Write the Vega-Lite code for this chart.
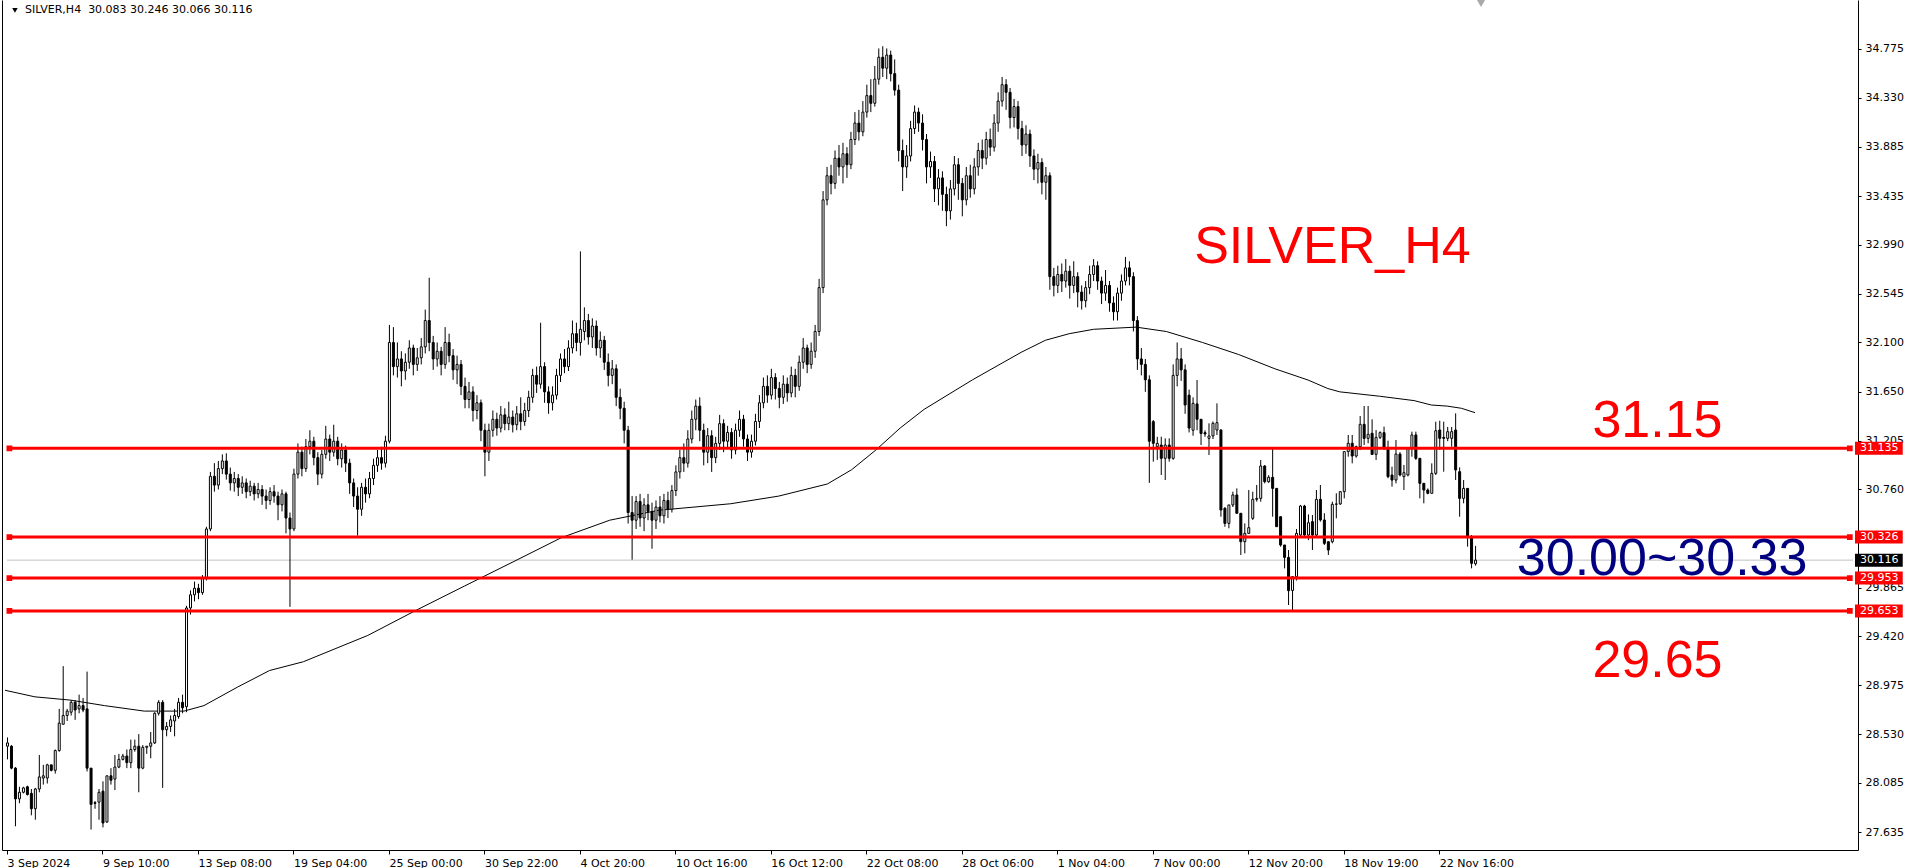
{
"$schema":"https://vega.github.io/schema/vega-lite/v6.json",
"width":1856,"height":850,
"autosize":{"type":"none"},
"padding":{"left":2,"top":0,"right":49,"bottom":18},
"background":"white",
"config":{"view":{"stroke":null},"font":"DejaVu Sans"},
"resolve":{"axis":{"x":"independent","y":"independent"}},
"datasets":{
"candles":[
{"i":0,"o":28.42,"h":28.50,"l":28.30,"c":28.45},
{"i":1,"o":28.42,"h":28.43,"l":28.21,"c":28.22},
{"i":2,"o":28.22,"h":28.23,"l":27.69,"c":27.94},
{"i":3,"o":27.94,"h":28.05,"l":27.90,"c":28.00},
{"i":4,"o":28.00,"h":28.05,"l":27.99,"c":28.04},
{"i":5,"o":28.05,"h":28.06,"l":27.97,"c":27.98},
{"i":6,"o":27.99,"h":28.03,"l":27.79,"c":27.85},
{"i":7,"o":27.85,"h":28.04,"l":27.75,"c":28.03},
{"i":8,"o":28.03,"h":28.34,"l":28.00,"c":28.14},
{"i":9,"o":28.13,"h":28.25,"l":28.07,"c":28.15},
{"i":10,"o":28.13,"h":28.26,"l":28.08,"c":28.25},
{"i":11,"o":28.25,"h":28.25,"l":28.19,"c":28.20},
{"i":12,"o":28.20,"h":28.39,"l":28.17,"c":28.38},
{"i":13,"o":28.38,"h":28.76,"l":28.37,"c":28.63},
{"i":14,"o":28.62,"h":29.15,"l":28.62,"c":28.70},
{"i":15,"o":28.70,"h":28.76,"l":28.65,"c":28.74},
{"i":16,"o":28.73,"h":28.84,"l":28.70,"c":28.82},
{"i":17,"o":28.82,"h":28.84,"l":28.66,"c":28.75},
{"i":18,"o":28.76,"h":28.89,"l":28.72,"c":28.79},
{"i":19,"o":28.79,"h":28.86,"l":28.73,"c":28.75},
{"i":20,"o":28.76,"h":29.10,"l":28.19,"c":28.22},
{"i":21,"o":28.22,"h":28.22,"l":27.66,"c":27.89},
{"i":22,"o":27.905,"h":27.92,"l":27.85,"c":27.899},
{"i":23,"o":27.91,"h":28.03,"l":27.75,"c":28.00},
{"i":24,"o":28.01,"h":28.10,"l":27.68,"c":27.72},
{"i":25,"o":27.73,"h":28.15,"l":27.72,"c":28.15},
{"i":26,"o":28.15,"h":28.22,"l":28.07,"c":28.11},
{"i":27,"o":28.12,"h":28.34,"l":28.02,"c":28.23},
{"i":28,"o":28.23,"h":28.35,"l":28.22,"c":28.30},
{"i":29,"o":28.30,"h":28.35,"l":28.29,"c":28.33},
{"i":30,"o":28.33,"h":28.39,"l":28.22,"c":28.27},
{"i":31,"o":28.27,"h":28.48,"l":28.22,"c":28.39},
{"i":32,"o":28.39,"h":28.48,"l":28.37,"c":28.42},
{"i":33,"o":28.42,"h":28.53,"l":28.00,"c":28.22},
{"i":34,"o":28.22,"h":28.43,"l":28.21,"c":28.41},
{"i":35,"o":28.41,"h":28.42,"l":28.35,"c":28.42},
{"i":36,"o":28.42,"h":28.55,"l":28.31,"c":28.45},
{"i":37,"o":28.45,"h":28.73,"l":28.44,"c":28.72},
{"i":38,"o":28.72,"h":28.84,"l":28.70,"c":28.82},
{"i":39,"o":28.82,"h":28.84,"l":28.04,"c":28.57},
{"i":40,"o":28.57,"h":28.64,"l":28.51,"c":28.60},
{"i":41,"o":28.60,"h":28.70,"l":28.55,"c":28.66},
{"i":42,"o":28.65,"h":28.76,"l":28.51,"c":28.70},
{"i":43,"o":28.69,"h":28.86,"l":28.67,"c":28.82},
{"i":44,"o":28.82,"h":28.89,"l":28.72,"c":28.77},
{"i":45,"o":28.78,"h":29.70,"l":28.73,"c":29.68},
{"i":46,"o":29.68,"h":29.84,"l":29.62,"c":29.80},
{"i":47,"o":29.80,"h":29.92,"l":29.74,"c":29.86},
{"i":48,"o":29.86,"h":29.90,"l":29.76,"c":29.82},
{"i":49,"o":29.82,"h":29.98,"l":29.80,"c":29.95},
{"i":50,"o":29.95,"h":30.42,"l":29.93,"c":30.40},
{"i":51,"o":30.40,"h":30.92,"l":30.38,"c":30.88},
{"i":52,"o":30.88,"h":31.00,"l":30.74,"c":30.80},
{"i":53,"o":30.80,"h":31.02,"l":30.76,"c":30.95},
{"i":54,"o":30.95,"h":31.08,"l":30.90,"c":31.02},
{"i":55,"o":31.02,"h":31.09,"l":30.85,"c":30.90},
{"i":56,"o":30.90,"h":30.96,"l":30.75,"c":30.82},
{"i":57,"o":30.82,"h":30.92,"l":30.74,"c":30.86},
{"i":58,"o":30.86,"h":30.90,"l":30.70,"c":30.78},
{"i":59,"o":30.78,"h":30.88,"l":30.72,"c":30.82},
{"i":60,"o":30.82,"h":30.86,"l":30.68,"c":30.74},
{"i":61,"o":30.74,"h":30.84,"l":30.70,"c":30.79},
{"i":62,"o":30.79,"h":30.82,"l":30.66,"c":30.72},
{"i":63,"o":30.72,"h":30.82,"l":30.68,"c":30.76},
{"i":64,"o":30.76,"h":30.80,"l":30.62,"c":30.70},
{"i":65,"o":30.70,"h":30.76,"l":30.58,"c":30.66},
{"i":66,"o":30.66,"h":30.78,"l":30.62,"c":30.74},
{"i":67,"o":30.74,"h":30.80,"l":30.64,"c":30.70},
{"i":68,"o":30.70,"h":30.74,"l":30.48,"c":30.62},
{"i":69,"o":30.62,"h":30.76,"l":30.56,"c":30.72},
{"i":70,"o":30.72,"h":30.74,"l":30.36,"c":30.50},
{"i":71,"o":30.50,"h":30.55,"l":29.69,"c":30.40},
{"i":72,"o":30.40,"h":30.95,"l":30.38,"c":30.90},
{"i":73,"o":30.90,"h":31.18,"l":30.86,"c":31.10},
{"i":74,"o":31.10,"h":31.15,"l":30.88,"c":30.95},
{"i":75,"o":30.95,"h":31.22,"l":30.92,"c":31.15},
{"i":76,"o":31.15,"h":31.30,"l":31.08,"c":31.20},
{"i":77,"o":31.20,"h":31.24,"l":30.98,"c":31.05},
{"i":78,"o":31.05,"h":31.10,"l":30.80,"c":30.90},
{"i":79,"o":30.90,"h":31.12,"l":30.86,"c":31.08},
{"i":80,"o":31.08,"h":31.34,"l":31.04,"c":31.22},
{"i":81,"o":31.22,"h":31.26,"l":31.02,"c":31.10},
{"i":82,"o":31.10,"h":31.35,"l":31.06,"c":31.20},
{"i":83,"o":31.20,"h":31.24,"l":30.98,"c":31.04},
{"i":84,"o":31.04,"h":31.18,"l":30.96,"c":31.12},
{"i":85,"o":31.12,"h":31.16,"l":30.92,"c":31.00},
{"i":86,"o":31.00,"h":31.04,"l":30.72,"c":30.82},
{"i":87,"o":30.82,"h":30.86,"l":30.60,"c":30.70},
{"i":88,"o":30.70,"h":30.78,"l":30.34,"c":30.58},
{"i":89,"o":30.58,"h":30.82,"l":30.52,"c":30.78},
{"i":90,"o":30.78,"h":30.86,"l":30.64,"c":30.72},
{"i":91,"o":30.72,"h":30.92,"l":30.68,"c":30.86},
{"i":92,"o":30.86,"h":31.04,"l":30.80,"c":30.98},
{"i":93,"o":30.98,"h":31.12,"l":30.92,"c":31.05},
{"i":94,"o":31.05,"h":31.15,"l":30.94,"c":31.00},
{"i":95,"o":31.00,"h":31.25,"l":30.96,"c":31.20},
{"i":96,"o":31.20,"h":32.26,"l":31.18,"c":32.10},
{"i":97,"o":32.10,"h":32.24,"l":31.80,"c":31.88},
{"i":98,"o":31.88,"h":32.10,"l":31.78,"c":31.95},
{"i":99,"o":31.95,"h":32.02,"l":31.70,"c":31.84},
{"i":100,"o":31.84,"h":32.00,"l":31.76,"c":31.92},
{"i":101,"o":31.92,"h":32.12,"l":31.86,"c":32.05},
{"i":102,"o":32.05,"h":32.08,"l":31.80,"c":31.90},
{"i":103,"o":31.90,"h":32.05,"l":31.84,"c":31.96},
{"i":104,"o":31.96,"h":32.14,"l":31.90,"c":32.06},
{"i":105,"o":32.06,"h":32.40,"l":32.00,"c":32.30},
{"i":106,"o":32.30,"h":32.69,"l":32.02,"c":32.10},
{"i":107,"o":32.10,"h":32.16,"l":31.85,"c":31.95},
{"i":108,"o":31.95,"h":32.10,"l":31.88,"c":32.02},
{"i":109,"o":32.02,"h":32.06,"l":31.80,"c":31.90},
{"i":110,"o":31.90,"h":32.24,"l":31.86,"c":32.10},
{"i":111,"o":32.10,"h":32.18,"l":31.92,"c":31.98},
{"i":112,"o":31.98,"h":32.04,"l":31.76,"c":31.85},
{"i":113,"o":31.85,"h":31.98,"l":31.72,"c":31.90},
{"i":114,"o":31.90,"h":31.94,"l":31.62,"c":31.70},
{"i":115,"o":31.70,"h":31.78,"l":31.50,"c":31.58},
{"i":116,"o":31.58,"h":31.74,"l":31.50,"c":31.65},
{"i":117,"o":31.65,"h":31.70,"l":31.38,"c":31.48},
{"i":118,"o":31.48,"h":31.62,"l":31.40,"c":31.55},
{"i":119,"o":31.55,"h":31.58,"l":31.20,"c":31.30},
{"i":120,"o":31.30,"h":31.36,"l":30.88,"c":31.10},
{"i":121,"o":31.10,"h":31.36,"l":31.02,"c":31.30},
{"i":122,"o":31.30,"h":31.48,"l":31.24,"c":31.40},
{"i":123,"o":31.40,"h":31.46,"l":31.25,"c":31.32},
{"i":124,"o":31.32,"h":31.52,"l":31.28,"c":31.44},
{"i":125,"o":31.44,"h":31.50,"l":31.30,"c":31.36},
{"i":126,"o":31.36,"h":31.56,"l":31.30,"c":31.42},
{"i":127,"o":31.42,"h":31.48,"l":31.28,"c":31.35},
{"i":128,"o":31.35,"h":31.52,"l":31.30,"c":31.45},
{"i":129,"o":31.45,"h":31.60,"l":31.30,"c":31.38},
{"i":130,"o":31.38,"h":31.55,"l":31.34,"c":31.48},
{"i":131,"o":31.48,"h":31.66,"l":31.42,"c":31.60},
{"i":132,"o":31.60,"h":31.86,"l":31.55,"c":31.80},
{"i":133,"o":31.80,"h":31.88,"l":31.64,"c":31.72},
{"i":134,"o":31.72,"h":32.28,"l":31.68,"c":31.88},
{"i":135,"o":31.88,"h":31.92,"l":31.55,"c":31.65},
{"i":136,"o":31.65,"h":31.70,"l":31.45,"c":31.55},
{"i":137,"o":31.55,"h":31.70,"l":31.48,"c":31.62},
{"i":138,"o":31.62,"h":31.86,"l":31.58,"c":31.80},
{"i":139,"o":31.80,"h":32.00,"l":31.74,"c":31.95},
{"i":140,"o":31.95,"h":32.04,"l":31.82,"c":31.88},
{"i":141,"o":31.88,"h":32.12,"l":31.84,"c":32.05},
{"i":142,"o":32.05,"h":32.30,"l":32.00,"c":32.18},
{"i":143,"o":32.18,"h":32.28,"l":32.02,"c":32.10},
{"i":144,"o":32.10,"h":32.93,"l":31.98,"c":32.22},
{"i":145,"o":32.20,"h":32.42,"l":32.12,"c":32.30},
{"i":146,"o":32.30,"h":32.36,"l":32.08,"c":32.15},
{"i":147,"o":32.15,"h":32.32,"l":32.05,"c":32.25},
{"i":148,"o":32.25,"h":32.30,"l":31.98,"c":32.05},
{"i":149,"o":32.05,"h":32.20,"l":31.96,"c":32.12},
{"i":150,"o":32.12,"h":32.16,"l":31.85,"c":31.92},
{"i":151,"o":31.92,"h":32.00,"l":31.70,"c":31.80},
{"i":152,"o":31.80,"h":31.94,"l":31.72,"c":31.86},
{"i":153,"o":31.86,"h":31.90,"l":31.52,"c":31.60},
{"i":154,"o":31.60,"h":31.68,"l":31.40,"c":31.50},
{"i":155,"o":31.50,"h":31.56,"l":31.18,"c":31.30},
{"i":156,"o":31.30,"h":31.34,"l":30.45,"c":30.55},
{"i":157,"o":30.55,"h":30.70,"l":30.12,"c":30.48},
{"i":158,"o":30.48,"h":30.70,"l":30.40,"c":30.65},
{"i":159,"o":30.65,"h":30.72,"l":30.42,"c":30.50},
{"i":160,"o":30.50,"h":30.68,"l":30.38,"c":30.62},
{"i":161,"o":30.62,"h":30.72,"l":30.48,"c":30.56},
{"i":162,"o":30.56,"h":30.64,"l":30.22,"c":30.48},
{"i":163,"o":30.48,"h":30.66,"l":30.40,"c":30.60},
{"i":164,"o":30.60,"h":30.70,"l":30.46,"c":30.52},
{"i":165,"o":30.52,"h":30.72,"l":30.45,"c":30.66},
{"i":166,"o":30.66,"h":30.74,"l":30.50,"c":30.58},
{"i":167,"o":30.58,"h":30.80,"l":30.55,"c":30.75},
{"i":168,"o":30.75,"h":30.98,"l":30.70,"c":30.92},
{"i":169,"o":30.92,"h":31.12,"l":30.86,"c":31.05},
{"i":170,"o":31.05,"h":31.18,"l":30.92,"c":31.00},
{"i":171,"o":31.00,"h":31.30,"l":30.96,"c":31.22},
{"i":172,"o":31.22,"h":31.48,"l":31.18,"c":31.40},
{"i":173,"o":31.40,"h":31.58,"l":31.30,"c":31.52},
{"i":174,"o":31.52,"h":31.60,"l":31.20,"c":31.30},
{"i":175,"o":31.30,"h":31.36,"l":30.98,"c":31.10},
{"i":176,"o":31.10,"h":31.32,"l":31.00,"c":31.25},
{"i":177,"o":31.25,"h":31.30,"l":30.92,"c":31.05},
{"i":178,"o":31.05,"h":31.24,"l":31.00,"c":31.18},
{"i":179,"o":31.18,"h":31.44,"l":31.12,"c":31.36},
{"i":180,"o":31.36,"h":31.40,"l":31.10,"c":31.20},
{"i":181,"o":31.20,"h":31.34,"l":31.14,"c":31.28},
{"i":182,"o":31.28,"h":31.32,"l":31.04,"c":31.12},
{"i":183,"o":31.12,"h":31.36,"l":31.08,"c":31.30},
{"i":184,"o":31.30,"h":31.48,"l":31.24,"c":31.40},
{"i":185,"o":31.40,"h":31.44,"l":31.15,"c":31.22},
{"i":186,"o":31.22,"h":31.26,"l":31.02,"c":31.10},
{"i":187,"o":31.10,"h":31.26,"l":31.05,"c":31.20},
{"i":188,"o":31.20,"h":31.45,"l":31.16,"c":31.38},
{"i":189,"o":31.38,"h":31.62,"l":31.32,"c":31.55},
{"i":190,"o":31.55,"h":31.78,"l":31.50,"c":31.70},
{"i":191,"o":31.70,"h":31.80,"l":31.55,"c":31.62},
{"i":192,"o":31.62,"h":31.86,"l":31.58,"c":31.78},
{"i":193,"o":31.78,"h":31.82,"l":31.58,"c":31.68},
{"i":194,"o":31.68,"h":31.74,"l":31.50,"c":31.60},
{"i":195,"o":31.60,"h":31.80,"l":31.54,"c":31.72},
{"i":196,"o":31.72,"h":31.78,"l":31.56,"c":31.64},
{"i":197,"o":31.64,"h":31.88,"l":31.60,"c":31.80},
{"i":198,"o":31.80,"h":31.86,"l":31.60,"c":31.70},
{"i":199,"o":31.70,"h":31.98,"l":31.66,"c":31.92},
{"i":200,"o":31.92,"h":32.14,"l":31.86,"c":32.05},
{"i":201,"o":32.05,"h":32.08,"l":31.82,"c":31.90},
{"i":202,"o":31.90,"h":32.10,"l":31.86,"c":32.02},
{"i":203,"o":32.02,"h":32.26,"l":31.96,"c":32.20},
{"i":204,"o":32.20,"h":32.68,"l":32.16,"c":32.60},
{"i":205,"o":32.60,"h":33.48,"l":32.55,"c":33.40},
{"i":206,"o":33.40,"h":33.70,"l":33.35,"c":33.62},
{"i":207,"o":33.62,"h":33.72,"l":33.45,"c":33.55},
{"i":208,"o":33.55,"h":33.85,"l":33.50,"c":33.78},
{"i":209,"o":33.78,"h":33.90,"l":33.62,"c":33.70},
{"i":210,"o":33.70,"h":33.92,"l":33.55,"c":33.82},
{"i":211,"o":33.82,"h":33.88,"l":33.60,"c":33.72},
{"i":212,"o":33.72,"h":34.02,"l":33.68,"c":33.95},
{"i":213,"o":33.95,"h":34.20,"l":33.90,"c":34.10},
{"i":214,"o":34.10,"h":34.22,"l":33.94,"c":34.02},
{"i":215,"o":34.02,"h":34.30,"l":33.98,"c":34.20},
{"i":216,"o":34.20,"h":34.45,"l":34.15,"c":34.35},
{"i":217,"o":34.35,"h":34.50,"l":34.20,"c":34.28},
{"i":218,"o":34.28,"h":34.62,"l":34.25,"c":34.50},
{"i":219,"o":34.50,"h":34.78,"l":34.45,"c":34.70},
{"i":220,"o":34.70,"h":34.80,"l":34.52,"c":34.60},
{"i":221,"o":34.60,"h":34.78,"l":34.50,"c":34.72},
{"i":222,"o":34.72,"h":34.76,"l":34.48,"c":34.55},
{"i":223,"o":34.55,"h":34.68,"l":34.35,"c":34.40},
{"i":224,"o":34.40,"h":34.45,"l":33.75,"c":33.85},
{"i":225,"o":33.85,"h":33.95,"l":33.48,"c":33.70},
{"i":226,"o":33.70,"h":33.90,"l":33.60,"c":33.80},
{"i":227,"o":33.80,"h":34.12,"l":33.75,"c":34.05},
{"i":228,"o":34.05,"h":34.26,"l":34.00,"c":34.20},
{"i":229,"o":34.20,"h":34.24,"l":34.02,"c":34.10},
{"i":230,"o":34.10,"h":34.18,"l":33.85,"c":33.95},
{"i":231,"o":33.95,"h":34.00,"l":33.55,"c":33.70},
{"i":232,"o":33.70,"h":33.84,"l":33.60,"c":33.75},
{"i":233,"o":33.75,"h":33.80,"l":33.38,"c":33.50},
{"i":234,"o":33.50,"h":33.68,"l":33.35,"c":33.60},
{"i":235,"o":33.60,"h":33.66,"l":33.30,"c":33.45},
{"i":236,"o":33.45,"h":33.52,"l":33.16,"c":33.30},
{"i":237,"o":33.30,"h":33.58,"l":33.22,"c":33.50},
{"i":238,"o":33.50,"h":33.80,"l":33.44,"c":33.72},
{"i":239,"o":33.72,"h":33.78,"l":33.40,"c":33.55},
{"i":240,"o":33.55,"h":33.60,"l":33.25,"c":33.40},
{"i":241,"o":33.40,"h":33.70,"l":33.35,"c":33.62},
{"i":242,"o":33.62,"h":33.72,"l":33.42,"c":33.50},
{"i":243,"o":33.50,"h":33.78,"l":33.45,"c":33.70},
{"i":244,"o":33.70,"h":33.92,"l":33.62,"c":33.85},
{"i":245,"o":33.85,"h":33.95,"l":33.68,"c":33.78},
{"i":246,"o":33.78,"h":34.02,"l":33.72,"c":33.95},
{"i":247,"o":33.95,"h":34.05,"l":33.80,"c":33.88},
{"i":248,"o":33.88,"h":34.18,"l":33.84,"c":34.10},
{"i":249,"o":34.10,"h":34.38,"l":34.02,"c":34.30},
{"i":250,"o":34.30,"h":34.52,"l":34.25,"c":34.45},
{"i":251,"o":34.45,"h":34.50,"l":34.22,"c":34.38},
{"i":252,"o":34.38,"h":34.42,"l":34.05,"c":34.15},
{"i":253,"o":34.15,"h":34.32,"l":34.06,"c":34.25},
{"i":254,"o":34.25,"h":34.30,"l":33.95,"c":34.05},
{"i":255,"o":34.05,"h":34.12,"l":33.80,"c":33.90},
{"i":256,"o":33.90,"h":34.08,"l":33.82,"c":34.00},
{"i":257,"o":34.00,"h":34.04,"l":33.70,"c":33.80},
{"i":258,"o":33.80,"h":33.86,"l":33.58,"c":33.68},
{"i":259,"o":33.68,"h":33.82,"l":33.55,"c":33.74},
{"i":260,"o":33.74,"h":33.78,"l":33.45,"c":33.56},
{"i":261,"o":33.56,"h":33.70,"l":33.40,"c":33.62},
{"i":262,"o":33.62,"h":33.65,"l":32.58,"c":32.70},
{"i":263,"o":32.70,"h":32.78,"l":32.52,"c":32.62},
{"i":264,"o":32.62,"h":32.80,"l":32.55,"c":32.72},
{"i":265,"o":32.72,"h":32.82,"l":32.56,"c":32.66},
{"i":266,"o":32.66,"h":32.86,"l":32.60,"c":32.75},
{"i":267,"o":32.75,"h":32.80,"l":32.50,"c":32.62},
{"i":268,"o":32.62,"h":32.84,"l":32.55,"c":32.70},
{"i":269,"o":32.70,"h":32.74,"l":32.42,"c":32.56},
{"i":270,"o":32.56,"h":32.62,"l":32.40,"c":32.48},
{"i":271,"o":32.48,"h":32.66,"l":32.42,"c":32.60},
{"i":272,"o":32.60,"h":32.80,"l":32.54,"c":32.72},
{"i":273,"o":32.72,"h":32.86,"l":32.66,"c":32.80},
{"i":274,"o":32.80,"h":32.84,"l":32.58,"c":32.66},
{"i":275,"o":32.66,"h":32.70,"l":32.45,"c":32.55},
{"i":276,"o":32.55,"h":32.76,"l":32.48,"c":32.62},
{"i":277,"o":32.62,"h":32.66,"l":32.38,"c":32.46},
{"i":278,"o":32.46,"h":32.52,"l":32.30,"c":32.38},
{"i":279,"o":32.38,"h":32.60,"l":32.30,"c":32.55},
{"i":280,"o":32.55,"h":32.72,"l":32.48,"c":32.66},
{"i":281,"o":32.66,"h":32.88,"l":32.62,"c":32.78},
{"i":282,"o":32.78,"h":32.84,"l":32.62,"c":32.70},
{"i":283,"o":32.70,"h":32.74,"l":32.20,"c":32.30},
{"i":284,"o":32.30,"h":32.34,"l":31.85,"c":31.95},
{"i":285,"o":31.95,"h":32.05,"l":31.80,"c":31.90},
{"i":286,"o":31.90,"h":31.95,"l":31.65,"c":31.76},
{"i":287,"o":31.76,"h":31.80,"l":30.82,"c":31.20},
{"i":288,"o":31.378,"h":31.393,"l":31.014,"c":31.181},
{"i":289,"o":31.15,"h":31.24,"l":31.03,"c":31.18},
{"i":290,"o":31.165,"h":31.241,"l":30.892,"c":31.044},
{"i":291,"o":31.044,"h":31.226,"l":30.846,"c":31.165},
{"i":292,"o":31.165,"h":31.226,"l":31.014,"c":31.044},
{"i":293,"o":31.044,"h":31.90,"l":31.03,"c":31.80},
{"i":294,"o":31.80,"h":32.10,"l":31.70,"c":31.95},
{"i":295,"o":31.95,"h":32.05,"l":31.75,"c":31.85},
{"i":296,"o":31.85,"h":31.90,"l":31.45,"c":31.53},
{"i":297,"o":31.62,"h":31.67,"l":31.28,"c":31.32},
{"i":298,"o":31.30,"h":31.60,"l":31.25,"c":31.545},
{"i":299,"o":31.54,"h":31.758,"l":31.30,"c":31.40},
{"i":300,"o":31.40,"h":31.40,"l":31.165,"c":31.27},
{"i":301,"o":31.278,"h":31.30,"l":31.24,"c":31.266},
{"i":302,"o":31.226,"h":31.363,"l":31.074,"c":31.248},
{"i":303,"o":31.248,"h":31.38,"l":31.22,"c":31.363},
{"i":304,"o":31.302,"h":31.545,"l":31.257,"c":31.369},
{"i":305,"o":31.302,"h":31.31,"l":30.512,"c":30.573},
{"i":306,"o":30.588,"h":30.60,"l":30.42,"c":30.451},
{"i":307,"o":30.451,"h":30.619,"l":30.406,"c":30.619},
{"i":308,"o":30.619,"h":30.74,"l":30.60,"c":30.710},
{"i":309,"o":30.710,"h":30.770,"l":30.543,"c":30.543},
{"i":310,"o":30.543,"h":30.543,"l":30.163,"c":30.284},
{"i":311,"o":30.284,"h":30.451,"l":30.178,"c":30.360},
{"i":312,"o":30.36,"h":30.755,"l":30.36,"c":30.412},
{"i":313,"o":30.497,"h":30.740,"l":30.482,"c":30.670},
{"i":314,"o":30.670,"h":30.801,"l":30.649,"c":30.679},
{"i":315,"o":30.679,"h":31.029,"l":30.649,"c":30.974},
{"i":316,"o":30.974,"h":30.983,"l":30.816,"c":30.831},
{"i":317,"o":30.831,"h":30.89,"l":30.82,"c":30.871},
{"i":318,"o":30.871,"h":31.135,"l":30.512,"c":30.770},
{"i":319,"o":30.770,"h":30.770,"l":30.421,"c":30.421},
{"i":320,"o":30.512,"h":30.512,"l":30.239,"c":30.254},
{"i":321,"o":30.254,"h":30.254,"l":30.041,"c":30.141},
{"i":322,"o":30.141,"h":30.208,"l":29.707,"c":29.838},
{"i":323,"o":29.84,"h":29.97,"l":29.661,"c":29.965},
{"i":324,"o":29.965,"h":30.40,"l":29.93,"c":30.360},
{"i":325,"o":30.345,"h":30.619,"l":30.330,"c":30.609},
{"i":326,"o":30.609,"h":30.62,"l":30.33,"c":30.345},
{"i":327,"o":30.345,"h":30.533,"l":30.299,"c":30.457},
{"i":328,"o":30.467,"h":30.527,"l":30.208,"c":30.345},
{"i":329,"o":30.345,"h":30.755,"l":30.330,"c":30.670},
{"i":330,"o":30.670,"h":30.801,"l":30.467,"c":30.482},
{"i":331,"o":30.482,"h":30.543,"l":30.254,"c":30.269},
{"i":332,"o":30.284,"h":30.284,"l":30.163,"c":30.208},
{"i":333,"o":30.284,"h":30.649,"l":30.269,"c":30.625},
{"i":334,"o":30.625,"h":30.725,"l":30.497,"c":30.628},
{"i":335,"o":30.628,"h":30.740,"l":30.62,"c":30.740},
{"i":336,"o":30.740,"h":31.105,"l":30.679,"c":31.105},
{"i":337,"o":31.105,"h":31.257,"l":31.059,"c":31.181},
{"i":338,"o":31.181,"h":31.257,"l":30.998,"c":31.065},
{"i":339,"o":31.065,"h":31.16,"l":31.05,"c":31.150},
{"i":340,"o":31.150,"h":31.430,"l":31.120,"c":31.354},
{"i":341,"o":31.354,"h":31.521,"l":31.165,"c":31.226},
{"i":342,"o":31.226,"h":31.521,"l":31.181,"c":31.263},
{"i":343,"o":31.272,"h":31.399,"l":31.074,"c":31.080},
{"i":344,"o":31.080,"h":31.302,"l":31.029,"c":31.235},
{"i":345,"o":31.235,"h":31.29,"l":31.22,"c":31.278},
{"i":346,"o":31.278,"h":31.333,"l":31.120,"c":31.135},
{"i":347,"o":31.135,"h":31.205,"l":30.862,"c":30.877},
{"i":348,"o":30.892,"h":30.968,"l":30.786,"c":30.846},
{"i":349,"o":30.846,"h":31.211,"l":30.816,"c":31.083},
{"i":350,"o":31.083,"h":31.10,"l":30.88,"c":30.892},
{"i":351,"o":30.877,"h":30.983,"l":30.755,"c":30.913},
{"i":352,"o":30.892,"h":31.14,"l":30.88,"c":31.135},
{"i":353,"o":31.135,"h":31.287,"l":31.059,"c":31.257},
{"i":354,"o":31.257,"h":31.287,"l":31.029,"c":31.044},
{"i":355,"o":31.044,"h":31.044,"l":30.679,"c":30.816},
{"i":356,"o":30.816,"h":30.816,"l":30.634,"c":30.755},
{"i":357,"o":30.755,"h":30.770,"l":30.716,"c":30.725},
{"i":358,"o":30.725,"h":30.998,"l":30.725,"c":30.907},
{"i":359,"o":30.907,"h":31.378,"l":30.892,"c":31.296},
{"i":360,"o":31.302,"h":31.387,"l":31.120,"c":31.226},
{"i":361,"o":31.235,"h":31.378,"l":30.922,"c":31.226},
{"i":362,"o":31.226,"h":31.33,"l":31.20,"c":31.287},
{"i":363,"o":31.226,"h":31.33,"l":31.15,"c":31.287},
{"i":364,"o":31.302,"h":31.454,"l":30.846,"c":30.938},
{"i":365,"o":30.922,"h":30.962,"l":30.512,"c":30.679},
{"i":366,"o":30.679,"h":30.846,"l":30.634,"c":30.770},
{"i":367,"o":30.770,"h":30.770,"l":30.239,"c":30.330},
{"i":368,"o":30.330,"h":30.345,"l":30.041,"c":30.087},
{"i":369,"o":30.083,"h":30.246,"l":30.066,"c":30.116}
],
"ma":[
{"i":-0.5,"p":28.93},{"i":7,"p":28.87},{"i":16,"p":28.84},{"i":24.5,"p":28.79},{"i":34.5,"p":28.74},{"i":44.5,"p":28.74},{"i":49.5,"p":28.79},{"i":58,"p":28.96},{"i":66,"p":29.11},{"i":74.5,"p":29.19},{"i":90.7,"p":29.43},{"i":102.9,"p":29.66},{"i":115,"p":29.88},{"i":127.2,"p":30.10},{"i":139.3,"p":30.32},{"i":151.5,"p":30.48},{"i":163.7,"p":30.57},{"i":181.9,"p":30.63},{"i":194,"p":30.70},{"i":206.2,"p":30.81},{"i":212.3,"p":30.94},{"i":218.4,"p":31.12},{"i":224.5,"p":31.32},{"i":230.5,"p":31.49},{"i":242.7,"p":31.76},{"i":254.9,"p":32.01},{"i":261,"p":32.12},{"i":267,"p":32.18},{"i":273.1,"p":32.22},{"i":283.8,"p":32.24},{"i":291.4,"p":32.20},{"i":300.5,"p":32.10},{"i":309.6,"p":31.99},{"i":318.7,"p":31.86},{"i":327,"p":31.758},{"i":332,"p":31.68},{"i":335,"p":31.65},{"i":345,"p":31.61},{"i":353.7,"p":31.57},{"i":358,"p":31.53},{"i":362,"p":31.52},{"i":365.6,"p":31.50},{"i":369,"p":31.46}
],
"levels":[{"p":31.135},{"p":30.326},{"p":29.953},{"p":29.653}],
"tags":[{"p":31.135,"t":"31.135","k":"r"},{"p":30.326,"t":"30.326","k":"r"},{"p":29.953,"t":"29.953","k":"r"},{"p":29.653,"t":"29.653","k":"r"},{"p":30.116,"t":"30.116","k":"b"}]
},
"layer":[
{"data":{"values":[{"p":30.116}]},
 "mark":{"type":"rule","color":"#c0c0c0","strokeWidth":1},
 "encoding":{
  "x":{"datum":0,"type":"quantitative","scale":{"domain":[0,464],"nice":false,"zero":false},"axis":null},
  "x2":{"datum":464},
  "y":{"field":"p","type":"quantitative","scale":{"domain":[27.4739,35.2216],"nice":false,"zero":false},
       "axis":{"orient":"left","domain":true,"domainColor":"black","domainWidth":1,"ticks":false,"labels":false,"grid":false,"title":null}}}},
{"data":{"name":"ma"},
 "mark":{"type":"line","color":"black","strokeWidth":1},
 "encoding":{
  "x":{"field":"i","type":"quantitative","axis":null},
  "y":{"field":"p","type":"quantitative","axis":null}}},
{"data":{"name":"candles"},
 "mark":{"type":"rule","color":"black","strokeWidth":1,"xOffset":0.5},
 "encoding":{
  "x":{"field":"i","type":"quantitative",
       "axis":{"orient":"bottom","values":[0,24,48,72,96,120,144,168,192,216,240,264,288,312,336,360],
        "labelExpr":"['3 Sep 2024','9 Sep 10:00','13 Sep 08:00','19 Sep 04:00','25 Sep 00:00','30 Sep 22:00','4 Oct 20:00','10 Oct 16:00','16 Oct 12:00','22 Oct 08:00','28 Oct 06:00','1 Nov 04:00','7 Nov 00:00','12 Nov 20:00','18 Nov 19:00','22 Nov 16:00'][round(datum.value/24)]",
        "domain":true,"domainColor":"black","domainWidth":1,"ticks":true,"tickColor":"black","tickSize":4,"tickWidth":1,
        "labelAlign":"left","labelBaseline":"alphabetic","labelPadding":12,"labelFontSize":11,"labelFont":"DejaVu Sans","labelColor":"black",
        "labelOverlap":false,"labelBound":false,"labelFlush":false,"grid":false,"title":null}},
  "y":{"field":"l","type":"quantitative",
       "axis":{"orient":"right","values":[34.775,34.330,33.885,33.435,32.990,32.545,32.100,31.650,31.205,30.760,29.865,29.420,28.975,28.530,28.085,27.635],
        "format":".3f","domain":true,"domainColor":"black","domainWidth":1,"ticks":true,"tickColor":"black","tickSize":3,"tickWidth":1,
        "labelAlign":"left","labelBaseline":"middle","labelPadding":4,"labelFontSize":11,"labelFont":"DejaVu Sans","labelColor":"black",
        "labelOverlap":false,"labelBound":false,"labelFlush":false,"grid":false,"title":null}},
  "y2":{"field":"h"}}},
{"data":{"name":"candles"},
 "mark":{"type":"bar","width":2,"stroke":"black","strokeWidth":1,"xOffset":0.5,"fillOpacity":1},
 "encoding":{
  "x":{"field":"i","type":"quantitative","axis":null},
  "y":{"field":"o","type":"quantitative","axis":null},
  "y2":{"field":"c"},
  "fill":{"condition":{"test":"datum.c < datum.o","value":"black"},"value":"white"}}},
{"data":{"name":"levels"},
 "mark":{"type":"rule","color":"#ff0000","strokeWidth":3},
 "encoding":{
  "x":{"datum":0,"type":"quantitative","axis":null},
  "x2":{"datum":463.5},
  "y":{"field":"p","type":"quantitative","axis":null}}},
{"data":{"name":"levels"},
 "mark":{"type":"point","shape":"square","filled":false,"stroke":"#ff0000","strokeWidth":2,"size":14,"opacity":1},
 "encoding":{
  "x":{"datum":0.6,"type":"quantitative","axis":null},
  "y":{"field":"p","type":"quantitative","axis":null}}},
{"data":{"name":"levels"},
 "mark":{"type":"point","shape":"square","filled":false,"stroke":"#ff0000","strokeWidth":2,"size":14,"opacity":1},
 "encoding":{
  "x":{"datum":463.2,"type":"quantitative","axis":null},
  "y":{"field":"p","type":"quantitative","axis":null}}},
{"data":{"name":"tags"},
 "mark":{"type":"rect","yOffset":-6.5,"y2Offset":6.5},
 "encoding":{
  "x":{"datum":464.5,"type":"quantitative","axis":null},
  "x2":{"datum":476.5},
  "y":{"field":"p","type":"quantitative","axis":null},
  "y2":{"field":"p"},
  "fill":{"condition":{"test":"datum.k == 'b'","value":"black"},"value":"#ff0000"}}},
{"data":{"name":"tags"},
 "mark":{"type":"text","color":"white","align":"left","baseline":"middle","font":"DejaVu Sans","fontSize":11},
 "encoding":{
  "x":{"datum":465.75,"type":"quantitative","axis":null},
  "y":{"field":"p","type":"quantitative","axis":null},
  "text":{"field":"t"}}},
{"data":{"values":[{"i":298.4,"p":32.824,"t":"SILVER_H4"},{"i":398.5,"p":31.238,"t":"31.15"},{"i":398.5,"p":29.05,"t":"29.65"}]},
 "mark":{"type":"text","color":"#ff0000","align":"left","baseline":"alphabetic","font":"Liberation Sans","fontSize":52},
 "encoding":{
  "x":{"field":"i","type":"quantitative","axis":null},
  "y":{"field":"p","type":"quantitative","axis":null},
  "text":{"field":"t"}}},
{"data":{"values":[{"i":379.5,"p":29.98,"t":"30.00~30.33"}]},
 "mark":{"type":"text","color":"#000080","align":"left","baseline":"alphabetic","font":"Liberation Sans","fontSize":52},
 "encoding":{
  "x":{"field":"i","type":"quantitative","axis":null},
  "y":{"field":"p","type":"quantitative","axis":null},
  "text":{"field":"t"}}},
{"data":{"values":[{"i":4.55,"p":35.100,"t":"SILVER,H4\u00a0\u00a030.083 30.246 30.066 30.116"}]},
 "mark":{"type":"text","color":"black","align":"left","baseline":"alphabetic","font":"DejaVu Sans","fontSize":11},
 "encoding":{
  "x":{"field":"i","type":"quantitative","axis":null},
  "y":{"field":"p","type":"quantitative","axis":null},
  "text":{"field":"t"}}},
{"data":{"values":[{"i":2.0,"p":35.126,"k":"menu"},{"i":370.5,"p":35.19,"k":"shift"}]},
 "mark":{"type":"point","shape":"triangle-down","filled":true,"opacity":1},
 "encoding":{
  "x":{"field":"i","type":"quantitative","axis":null},
  "y":{"field":"p","type":"quantitative","axis":null},
  "size":{"condition":{"test":"datum.k == 'menu'","value":30},"value":70},
  "color":{"condition":{"test":"datum.k == 'menu'","value":"black"},"value":"#a9a9a9"}}}
]
}
